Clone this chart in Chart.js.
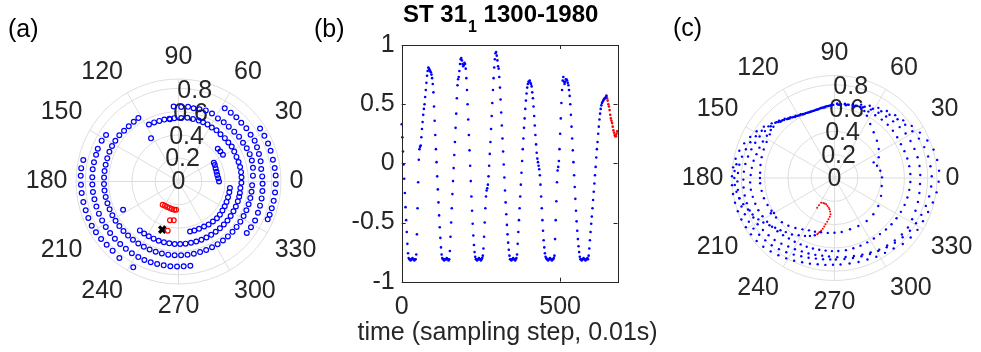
<!DOCTYPE html>
<html>
<head>
<meta charset="utf-8">
<script src="https://cdn.jsdelivr.net/npm/chart.js@4.4.0/dist/chart.umd.min.js"></script>
<style>
  html, body { margin: 0; padding: 0; background: #fff; }
  #wrap { position: relative; width: 981px; height: 352px; overflow: hidden; }
  #wrap canvas { position: absolute; left: 0; top: 0; }
</style>
</head>
<body>
<div id="wrap">
  <canvas id="chartA" width="981" height="352"></canvas>
  <canvas id="chartB" width="981" height="352"></canvas>
  <canvas id="chartC" width="981" height="352"></canvas>
</div>
<script>
// --- shared axis settings ---
const rMax = 0.88;
const rTicks = [0, 0.2, 0.4, 0.6, 0.8];
const thetaTicks = [0, 30, 60, 90, 120, 150, 180, 210, 240, 270, 300, 330];
const rLabelAngle = 80;

// --- (a) polar circles: angle (deg) and radius ---
const aBlueTheta = [
  // outer right arc
  33, 28, 23, 18.5, 13, 8, 3.5, -1.5, -6.5, -11.5, -16, -20, -23,
  // outer left arc
  167.3, 172.2, 176.6, 181.9, 186.8, 192.2, 197.2, 202, 207, 211.6, 216.6, 221.4, 226.4, 232.3, 242.2,
  // 0.74 ring, left + bottom
  147.3, 152, 157.9, 162, 167.2, 171.9, 177.2, 182, 187, 192, 197, 202, 207, 212, 217, 222, 227, 232, 237, 242,
  246.5, 251, 255.5, 260, 264.5, 269, 273.5, 278,
  // 0.74 ring, right
  -37, -32.3, -27, -21.5, -16.5, -11.5, -6.5, -1.5, 3.5, 8.6, 13.8, 18.9, 23.5, 28.2, 33, 38.1, 43.1, 48, 52.8, 57.7,
  // 0.64 ring
  122.3, 126.8, 132, 137, 142, 147.2, 151.9, 156.7, 162, 167, 172, 177, 182, 187, 192, 197, 202, 207, 212,
  217, 222, 227, 232, 237, 242, 247, 252, 257, 262, 267, 272, 277, 282, 287, 292, 297, 302, 307, 312,
  317, 322, 327, 332, 337, 342, 347, 352, 357, 4.5, 10.4, 16, 21, 26, 31, 36.5, 41.8, 47.5, 52.6,
  58, 63.8, 69, 73.8, 78.4, 82.7, 87.9, 93.7, 97.8,
  // 0.54 ring
  207, 231.7, 236.5, 241.5, 246.5, 251.5, 256.5, 261.5, 266.5, 271.5, 276.5, 281.5, 286.5, 291.5, 296.5,
  301.5, 306.5, 311.5, 316.5, 321.5, 326.5, 331.5, 336.5, 341.5, 346, 349.4, 354, 358.9, 3.8, 8.5, 13.2,
  18, 23, 28.2, 33.4, 38, 43.1, 48.4, 53.4, 58.3, 63, 67.5, 71.6, 76.9, 82.1, 87.5, 93.8, 98.3, 102.9,
  107.6, 112.4, 117.4, 122.5,
  // 0.44 arc
  -77, -72.1, -66.5, -60.4, -55, -49.3, -43.7, -38.7, -33.4, -28.1, -23, -17.6, -12, -7.2,
  // short inner pieces
  39.8, 35.7, 31, 27.8,
  24.3, 19.4, 14.4, 9.5, 4.7, 0, -2.1
];
const aBlueR = [
  .835, .835, .835, .834, .832, .834, .836, .835, .834, .834, .833, .833, .832,
  .838, .843, .841, .838, .837, .836, .834, .835, .836, .832, .828, .822, .82, .83, .833,
  .739, .747, .748, .744, .744, .744, .741, .74, .74, .738, .737, .737, .736, .736, .735, .735, .734, .734, .735, .735,
  .735, .733, .732, .731, .731, .73, .73, .73,
  .734, .736, .738, .733, .73, .728, .725, .722, .72, .718, .726, .73, .735, .742, .738, .74, .738, .742, .742, .743,
  .645, .641, .638, .639, .645, .645, .647, .646, .643, .642, .641, .64, .64, .64, .639, .638, .638, .637, .637,
  .636, .636, .635, .635, .634, .634, .634, .634, .634, .634, .634, .634, .634, .634, .634, .634, .634, .634, .634,
  .634, .634, .633, .633, .633, .633, .633, .633, .633, .633, .641, .65, .655, .655, .652, .646, .647, .642, .639,
  .639, .639, .651, .654, .646, .642, .646, .641, .645,
  .54, .534, .535, .535, .535, .535, .536, .536, .537, .537, .537, .537, .537, .537, .537,
  .537, .537, .537, .537, .537, .537, .537, .537, .537, .537, .537, .536, .534, .54, .542, .543,
  .543, .542, .541, .543, .547, .543, .545, .543, .547, .544, .55, .55, .551, .55, .552, .546, .545, .544,
  .545, .546, .549, .551,
  .439, .44, .442, .442, .445, .451, .453, .456, .455, .452, .45, .448, .446, .446,
  .445, .439, .442, .445,
  .343, .342, .338, .337, .337, .342, .348
];
const aRedTheta = [235.7, 240.8, 246.3, 251.6, 256.7, 261.5, 265, 257.6, 263, 257.6];
const aRedR = [.241, .238, .239, .24, .243, .245, .243, .341, .336, .432];
const aMarkTheta = [251.4];
const aMarkR = [.436];

// --- (b) time series, one value every bStep samples ---
const bStep = 2;
const bXTicks = [0, 500];
const bYTicks = [-1, -0.5, 0, 0.5, 1];
const bTitle = ['ST 31', '1', ' 1300-1980'];
const bXLabel = 'time (sampling step, 0.01s)';
const bBlue = [
  .33, .22, .10, -.01, -.13, -.25, -.37, -.48, -.58, -.68, -.76, -.80,
  -.81, -.81, -.82, -.81, -.81, -.80, -.81, -.81, -.82, -.81, -.81,
  -.77, -.60, -.38, -.16, .03, .12, .14, .15, .22, .29, .35, .41, .46, .50, .56, .62, .68, .74, .78, .81,
  .80, .79, .78, .77, .75, .72, .67, .60, .48, .36, .24, .12, .01, -.11, -.22, -.33, -.44, -.54, -.63, -.71, -.77, -.80,
  -.81, -.81, -.82, -.81, -.81, -.81, -.80, -.81, -.81, -.82, -.81,
  -.74, -.62, -.50, -.38, -.26, -.15, -.04, .07, .18, .30, .42, .55, .66, .71, .73, .78, .84, .88, .89,
  .87, .84, .82, .83, .85, .84, .80, .72, .62, .50, .37, .24, .11, -.02, -.15, -.28, -.40, -.51, -.61, -.69, -.75, -.79,
  -.81, -.81, -.82, -.81, -.81, -.80, -.81, -.81, -.82, -.81, -.80,
  -.78, -.72, -.62, -.50, -.38, -.28, -.23, -.21, -.18, -.11, -.02, .08, .18, .29, .40, .51, .62, .72, .81, .88, .93, .94,
  .91, .87, .82, .80, .73, .64, .54, .43, .32, .21, .10, -.01, -.12, -.23, -.33, -.43, -.52, -.60, -.67, -.73, -.78,
  -.81, -.81, -.82, -.81, -.81, -.80, -.81, -.81, -.82, -.81, -.80,
  -.77, -.68, -.58, -.48, -.38, -.28, -.18, -.08, .02, .12, .21, .30, .38, .46, .53, .59, .64, .67, .69, .69, .70,
  .68, .67, .65, .60, .55, .48, .40, .32, .24, .16, .09, .04, .01, -.02, -.05, -.10, -.18, -.28, -.38, -.48, -.57,
  -.65, -.71, -.76, -.79, -.80,
  -.81, -.81, -.82, -.81, -.81, -.80, -.81, -.81, -.82, -.81, -.81, -.80,
  -.78, -.64, -.48, -.32, -.16, -.06, -.03, .02, .12, .25, .38, .51, .62, .70, .73, .69, .67, .69, .71, .71, .70,
  .68, .66, .62, .57, .50, .41, .31, .21, .11, .01, -.10, -.20, -.30, -.40, -.49, -.57, -.64, -.70, -.75, -.79,
  -.81, -.81, -.82, -.81, -.81, -.80, -.81, -.81, -.82, -.81, -.81, -.80, -.81,
  -.78, -.72, -.65, -.58, -.51, -.45, -.38, -.31, -.24, -.17, -.10, -.03, .05, .12, .18, .25, .31, .37, .42,
  .46, .49, .51, .52, .53, .54, .55, .55, .56, .57
];
const bRedStart = 646;
const bRed = [.57, .55, .53, .50, .48, .45, .41, .38, .36, .34, .31, .28, .26, .24, .23, .23, .25, .27];

// --- (c) polar dots, one array pair per visible loop ---
const cLoop1Theta = [88, 82, 76, 70, 64, 58, 52, 46, 40, 34, 28, 22, 16, 10, 4, -2, -8, -14, -20, -26,
  -32, -38, -44, -50, -56, -62, -68, -74, -80, -86, -91, -96, -101, -106, -111, -116, -121, -126, -131, -136,
  -141, -146, -151, -156, -161, -166, -171, -176, -181, -186, -191, -196, -201, -206, -211, -216, -221,
  135, 131, 127, 123, 119, 115, 111, 107, 103, 99, 95, 91];
const cLoop1R = [.64, .645, .655, .67, .69, .71, .73, .75, .77, .80, .83, .86, .885, .895, .90, .895, .885, .87, .855, .845,
  .84, .83, .815, .79, .775, .765, .755, .75, .745, .745, .745, .75, .755, .765, .775, .79, .805, .82, .835, .85,
  .86, .865, .87, .875, .878, .88, .882, .882, .88, .875, .865, .85, .83, .805, .78, .75, .715,
  .68, .66, .64, .625, .615, .607, .604, .604, .607, .613, .62, .628];
const cLoop2Theta = [85, 79, 73, 67, 61, 55, 49, 43, 37, 31, 25, 19, 13, 7, 1, -5, -11, -17, -23, -29,
  -35, -41, -47, -53, -59, -65, -71, -77, -83, -89, -93, -98, -103, -108, -113, -118, -123, -128, -133, -138,
  -143, -148, -153, -158, -163, -168, -173, -178, -183, -188, -193, -198, -203, -208, -213, -218,
  137, 133, 129, 125, 121, 117, 113, 109, 105, 101, 97, 93];
const cLoop2R = [.635, .64, .65, .665, .68, .70, .72, .74, .76, .78, .80, .815, .825, .83, .835, .833, .828, .82, .81, .80,
  .79, .775, .76, .745, .73, .72, .71, .705, .70, .70, .70, .705, .71, .72, .73, .745, .76, .775, .79, .80,
  .81, .82, .825, .83, .835, .835, .835, .834, .83, .825, .815, .80, .785, .765, .745, .72,
  .695, .67, .65, .635, .622, .612, .607, .605, .607, .612, .618, .625];
const cLoop3Theta = [86, 80, 74, 68, 62, 56, 50, 44, 38, 32, 26, 20, 14, 8, 2, -4, -10, -16, -22, -28,
  -34, -40, -46, -52, -58, -64, -70, -76, -82, -88, -94, -99, -104, -109, -114, -119, -124, -129, -134, -139,
  -144, -149, -154, -159, -164, -169, -174, -179, -184, -189, -194, -199, -204, -209, -214, -219,
  134, 130, 126, 122, 118, 114, 110, 106, 102, 98, 94];
const cLoop3R = [.63, .64, .645, .655, .665, .675, .69, .70, .71, .72, .726, .73, .735, .737, .737, .736, .74, .745, .75, .755,
  .76, .755, .745, .735, .725, .71, .70, .69, .685, .68, .675, .675, .68, .685, .69, .70, .71, .725, .74, .75,
  .76, .77, .775, .78, .783, .785, .785, .783, .78, .775, .765, .755, .745, .735, .72, .705,
  .685, .665, .645, .63, .62, .61, .606, .606, .61, .615, .622];
const cLoop4Theta = [87, 81, 75, 69, 63, 57, 51, 45, 39, 33, 27, 21, 15, 9, 3, -3, -9, -15, -21, -27,
  -33, -39, -45, -51, -57, -63, -69, -75, -81, -87, -92, -97, -102, -107, -112, -117, -122, -127, -132, -137,
  -142, -147, -152, -157, -162, -167, -172, -177, -182, -187, -192, -197, -202, -207, -212, -217,
  136, 132, 128, 124, 120, 116, 112, 108, 104, 100, 96, 92];
const cLoop4R = [.63, .632, .635, .638, .64, .642, .645, .646, .645, .642, .64, .643, .647, .65, .652, .652, .65, .648, .645, .64,
  .635, .63, .625, .62, .62, .62, .622, .625, .627, .628, .628, .628, .63, .633, .637, .64, .645, .65, .66, .67,
  .68, .69, .70, .71, .715, .72, .725, .725, .72, .715, .71, .70, .695, .69, .685, .685,
  .69, .668, .648, .632, .62, .611, .606, .605, .607, .612, .619, .627];
const cLoop5Theta = [88, 82, 76, 70, 66, 62.5, 56.5, 49.4, 41.3, 33.3, 25.1, 21.8, 16.1, 9, 0.8, -9.6, -21, -32.6, -43, -53.2,
  -63.6, -73.2, -82.4, -90, -97, -104, -110, -116, -122, -128, -134, -140, -146, -150, -151, -152.5, -158, -164, -170, -176,
  -180, -184, -190, -196, -202, -208, -214, -220, 134, 128, 122, 116, 110, 104, 98, 92];
const cLoop5R = [.635, .64, .645, .65, .63, .603, .556, .517, .485, .454, .419, .362, .38, .398, .408, .411, .428, .446, .456, .461,
  .46, .46, .468, .47, .475, .48, .49, .50, .52, .545, .57, .59, .605, .60, .625, .61, .62, .63, .635, .64,
  .64, .64, .645, .65, .655, .66, .67, .685, .67, .645, .625, .61, .604, .605, .612, .625];
const cLoop6Theta = [172, 176, 180, 184, 188, 192, 196, 200, 204, 208.5, 212, 216, 220, 224, 228, 233, 238, 243, 247, 251];
const cLoop6R = [.85, .86, .86, .858, .85, .835, .815, .79, .77, .744, .72, .69, .665, .645, .625, .607, .58, .558, .54, .52];
const cRedTheta = [252.9, 253.6, 254.5, 255.8, 257, 258, 259, 260.5, 261.7, 263, 263.7, 262.5, 260.9, 259, 256, 252.5, 249, 246, 241.7, 240.5, 239.8];
const cRedR = [.506, .494, .481, .465, .447, .425, .405, .38, .358, .335, .313, .29, .272, .26, .248, .237, .235, .236, .241, .27, .295];

// --- look ---
const FONT = '"Liberation Sans", Arial, Helvetica, sans-serif';
const TXT = '#262626';
const GRID = '#dedede';
const BLUE = '#0000ff';
const RED = '#ff0000';

Chart.defaults.font.family = FONT;
Chart.defaults.color = TXT;

function polarPoints(theta, r) {
  return theta.map((t, i) => ({
    x: r[i] * Math.cos(t * Math.PI / 180),
    y: r[i] * Math.sin(t * Math.PI / 180)
  }));
}

// polar grid, theta labels and r labels drawn from the x/y scales
const polarGrid = {
  id: 'polarGrid',
  beforeDatasetsDraw(chart) {
    const { ctx, scales: { x, y } } = chart;
    const cx = x.getPixelForValue(0), cy = y.getPixelForValue(0);
    const k = x.getPixelForValue(1) - cx;
    const R = rMax * k;
    ctx.save();
    ctx.strokeStyle = GRID;
    ctx.lineWidth = 1;
    rTicks.slice(1).concat([rMax]).forEach(r => {
      ctx.beginPath();
      ctx.arc(cx, cy, r * k, 0, 2 * Math.PI);
      ctx.stroke();
    });
    thetaTicks.forEach(t => {
      const a = t * Math.PI / 180;
      ctx.beginPath();
      ctx.moveTo(cx, cy);
      ctx.lineTo(cx + R * Math.cos(a), cy - R * Math.sin(a));
      ctx.stroke();
    });

    ctx.fillStyle = TXT;
    ctx.font = '25px ' + FONT;
    ctx.textAlign = 'center';
    ctx.textBaseline = 'middle';
    const sgn = v => (Math.abs(v) < 1e-6 ? 0 : Math.sign(v));
    thetaTicks.forEach(t => {
      const a = t * Math.PI / 180, c = Math.cos(a), s = Math.sin(a);
      const txt = String(t);
      const w = ctx.measureText(txt).width, h = 27;
      const d = R + 8.5;
      ctx.fillText(txt, cx + d * c + sgn(c) * w / 2, cy - d * s - sgn(s) * h / 2);
    });
    const la = rLabelAngle * Math.PI / 180;
    rTicks.forEach(r => {
      ctx.fillText(String(r), cx + r * k * Math.cos(la), cy - r * k * Math.sin(la) + 1);
    });
    ctx.restore();
  }
};

function panelLabel(text, px, py) {
  return {
    id: 'panelLabel',
    afterDraw(chart) {
      const ctx = chart.ctx;
      ctx.save();
      ctx.fillStyle = '#000';
      ctx.font = '25px ' + FONT;
      ctx.textAlign = 'left';
      ctx.textBaseline = 'middle';
      ctx.fillText(text, px, py);
      ctx.restore();
    }
  };
}

function polarOptions(padding) {
  return {
    responsive: false,
    animation: false,
    events: [],
    layout: { padding },
    scales: {
      x: { type: 'linear', display: false, min: -rMax, max: rMax },
      y: { type: 'linear', display: false, min: -rMax, max: rMax }
    },
    plugins: { legend: { display: false }, tooltip: { enabled: false } }
  };
}

// (a)
new Chart(document.getElementById('chartA'), {
  type: 'scatter',
  data: {
    datasets: [
      { data: polarPoints(aBlueTheta, aBlueR), pointStyle: 'circle', pointRadius: 2.4, borderWidth: 1.2,
        borderColor: BLUE, backgroundColor: 'rgba(0,0,0,0)', clip: false },
      { data: polarPoints(aRedTheta, aRedR), pointStyle: 'circle', pointRadius: 2.4, borderWidth: 1.2,
        borderColor: RED, backgroundColor: 'rgba(0,0,0,0)', clip: false },
      { data: polarPoints(aMarkTheta, aMarkR), pointStyle: 'crossRot', pointRadius: 4.5, borderWidth: 3.2,
        borderColor: '#000', backgroundColor: '#000', clip: false }
    ]
  },
  options: polarOptions({ left: 76, right: 700, top: 79, bottom: 68 }),
  plugins: [polarGrid, panelLabel('(a)', 8, 30)]
});

// (b) box with inward ticks, title and x label
const axesBox = {
  id: 'axesBox',
  afterDatasetsDraw(chart) {
    const { ctx, chartArea: a, scales: { x, y } } = chart;
    const tl = 4;
    ctx.save();
    ctx.strokeStyle = TXT;
    ctx.lineWidth = 1;
    ctx.strokeRect(Math.round(a.left) + 0.5, Math.round(a.top) + 0.5,
      Math.round(a.right - a.left), Math.round(a.bottom - a.top));
    ctx.beginPath();
    bXTicks.forEach(v => {
      const px = Math.round(x.getPixelForValue(v)) + 0.5;
      ctx.moveTo(px, a.bottom); ctx.lineTo(px, a.bottom - tl);
      ctx.moveTo(px, a.top); ctx.lineTo(px, a.top + tl);
    });
    bYTicks.forEach(v => {
      const py = Math.round(y.getPixelForValue(v)) + 0.5;
      ctx.moveTo(a.left, py); ctx.lineTo(a.left + tl, py);
      ctx.moveTo(a.right, py); ctx.lineTo(a.right - tl, py);
    });
    ctx.stroke();

    // x axis label, allowed to run wider than the axes
    ctx.fillStyle = TXT;
    ctx.font = '25px ' + FONT;
    ctx.textAlign = 'center';
    ctx.textBaseline = 'middle';
    ctx.fillText(bXLabel, (a.left + a.right) / 2 - 2, 333);
    ctx.restore();
  }
};

const titleB = {
  id: 'titleB',
  afterDraw(chart) {
    const ctx = chart.ctx;
    ctx.save();
    ctx.fillStyle = '#000';
    ctx.textAlign = 'left';
    ctx.textBaseline = 'alphabetic';
    let x = 403;
    ctx.font = 'bold 24px ' + FONT;
    ctx.fillText(bTitle[0], x, 22);
    x += ctx.measureText(bTitle[0]).width + 1;
    ctx.font = 'bold 16px ' + FONT;
    ctx.fillText(bTitle[1], x, 32);
    x += ctx.measureText(bTitle[1]).width;
    ctx.font = 'bold 24px ' + FONT;
    ctx.fillText(bTitle[2], x, 22);
    ctx.restore();
  }
};

new Chart(document.getElementById('chartB'), {
  type: 'scatter',
  data: {
    datasets: [
      { data: bBlue.map((v, i) => ({ x: i * bStep, y: v })), pointRadius: 1.3, borderWidth: 0,
        backgroundColor: BLUE, clip: false },
      { data: bRed.map((v, i) => ({ x: bRedStart + i * bStep, y: v })), pointRadius: 1.3, borderWidth: 0,
        backgroundColor: RED, clip: false }
    ]
  },
  options: {
    responsive: false,
    animation: false,
    events: [],
    layout: { padding: { left: 329.7, right: 363.5, top: 45, bottom: 0 } },
    scales: {
      x: {
        type: 'linear', min: 0, max: 681,
        afterBuildTicks: s => { s.ticks = bXTicks.map(v => ({ value: v })); },
        afterFit: s => { s.height = 70.3; },
        grid: { display: false, drawTicks: false },
        border: { display: false },
        ticks: { font: { size: 25 }, color: TXT, padding: 10, maxRotation: 0, callback: v => String(v) }
      },
      y: {
        type: 'linear', min: -1, max: 1,
        afterBuildTicks: s => { s.ticks = bYTicks.map(v => ({ value: v })); },
        afterFit: s => { s.width = 72; },
        grid: { display: false, drawTicks: false },
        border: { display: false },
        ticks: { font: { size: 25 }, color: TXT, padding: 7, callback: v => String(v) }
      }
    },
    plugins: { legend: { display: false }, tooltip: { enabled: false } }
  },
  plugins: [axesBox, titleB, panelLabel('(b)', 314, 30)]
});

// (c)
const cLoops = [
  [cLoop1Theta, cLoop1R], [cLoop2Theta, cLoop2R], [cLoop3Theta, cLoop3R],
  [cLoop4Theta, cLoop4R], [cLoop5Theta, cLoop5R], [cLoop6Theta, cLoop6R]
];
new Chart(document.getElementById('chartC'), {
  type: 'scatter',
  data: {
    datasets: cLoops.map(([t, r]) => ({
      data: polarPoints(t, r), pointRadius: 1.2, borderWidth: 0, backgroundColor: BLUE, clip: false
    })).concat([{
      data: polarPoints(cRedTheta, cRedR), pointRadius: 1.0, borderWidth: 0, backgroundColor: RED, clip: false
    }])
  },
  options: polarOptions({ left: 732, right: 44, top: 75.5, bottom: 71.5 }),
  plugins: [polarGrid, panelLabel('(c)', 673, 29)]
});
</script>
</body>
</html>
